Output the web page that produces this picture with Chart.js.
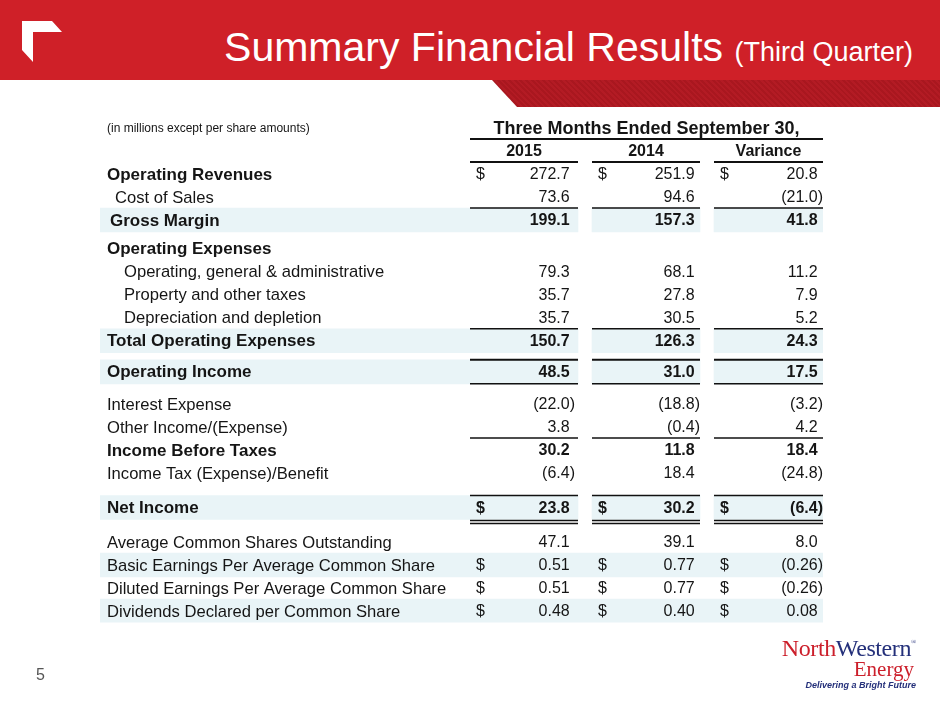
<!DOCTYPE html>
<html>
<head>
<meta charset="utf-8">
<script src="https://cdn.jsdelivr.net/npm/chart.js@4.4.0/dist/chart.umd.min.js"></script>
<style>
  body { margin: 0; width: 940px; height: 705px; overflow: hidden; background: #fff; position: relative;
         font-family: "Liberation Sans", Arial, sans-serif; }
  #band { position: absolute; left: 0; top: 0; width: 940px; height: 80px; background: #cf2028; }
  #strip { position: absolute; left: 0; top: 80px; width: 940px; height: 27px;
           background: repeating-linear-gradient(45deg, #b31b24 0 2px, #a9171f 2px 4px);
           clip-path: polygon(492px 0, 940px 0, 940px 27px, 517px 27px); }
  #mark { position: absolute; left: 0; top: 0; width: 80px; height: 80px; background: #fff;
          clip-path: polygon(22px 21px, 52px 21px, 62px 32px, 33px 32px, 33px 62px, 22px 50px); }
  #title { position: absolute; right: 27px; top: 27px; color: #fff; font-size: 41px; line-height: 40px; white-space: nowrap; }
  #title span { font-size: 27px; }
  #page { position: absolute; left: 36px; top: 666px; font-size: 16px; color: #555; }
  #logo { position: absolute; right: 24px; top: 630px; text-align: right; width: 200px; }
  #logo .nw { font-family: "Liberation Serif", "DejaVu Serif", serif; font-size: 24px; line-height: 24px; letter-spacing: -0.4px; }
  #logo .nw .n { color: #cc1f2b; }
  #logo .nw .w { color: #24307a; }
  #logo .nw sup { font-size: 7px; color: #24307a; vertical-align: 12px; }
  #logo .en { font-family: "Liberation Serif", "DejaVu Serif", serif; font-size: 21px; line-height: 18px; color: #cc1f2b; margin-right: 2px; }
  #logo .tag { font-size: 9px; font-weight: bold; font-style: italic; color: #24307a; line-height: 14px; }
  #table { position: absolute; left: 0; top: 0; }
</style>
</head>
<body>
<div id="band"></div>
<div id="strip"></div>
<div id="mark"></div>
<div id="title">Summary Financial Results <span>(Third Quarter)</span></div>
<canvas id="table" width="940" height="705"></canvas>
<div id="page">5</div>
<div id="logo">
  <div class="nw"><span class="n">North</span><span class="w">Western</span><sup>®</sup></div>
  <div class="en">Energy</div>
  <div class="tag">Delivering a Bright Future</div>
</div>
<script>
// Datos de la tabla
const unitsNote = '(in millions except per share amounts)';
const headerLabel = 'Three Months Ended September 30,';
const columnLabels = ['2015', '2014', 'Variance'];
const rowLabels = [
  'Operating Revenues', 'Cost of Sales', 'Gross Margin', 'Operating Expenses',
  'Operating, general & administrative', 'Property and other taxes', 'Depreciation and depletion',
  'Total Operating Expenses', 'Operating Income', 'Interest Expense', 'Other Income/(Expense)',
  'Income Before Taxes', 'Income Tax (Expense)/Benefit', 'Net Income',
  'Average Common Shares Outstanding', 'Basic Earnings Per Average Common Share',
  'Diluted Earnings Per Average Common Share', 'Dividends Declared per Common Share'
];
const values2015 = [272.7, 73.6, 199.1, null, 79.3, 35.7, 35.7, 150.7, 48.5, -22.0, 3.8, 30.2, -6.4, 23.8, 47.1, 0.51, 0.51, 0.48];
const values2014 = [251.9, 94.6, 157.3, null, 68.1, 27.8, 30.5, 126.3, 31.0, -18.8, -0.4, 11.8, 18.4, 30.2, 39.1, 0.77, 0.77, 0.40];
const valuesVariance = [20.8, -21.0, 41.8, null, 11.2, 7.9, 5.2, 24.3, 17.5, -3.2, 4.2, 18.4, -24.8, -6.4, 8.0, -0.26, -0.26, 0.08];

// Estilo de cada fila (no son datos)
const rowStyle = [
  { bold: 'label', dollar: true },
  { indent: 8 },
  { bold: 'all', indent: 3, shade: 'cols', lineAbove: 1.5 },
  { bold: 'label', gap: 0.25 },
  { indent: 17 },
  { indent: 17 },
  { indent: 17 },
  { bold: 'all', shade: 'cols', lineAbove: 1.5 },
  { bold: 'all', shade: 'cols', gap: 0.35, lineAbove: 2, lineBelow: true },
  { gap: 0.4 },
  {},
  { bold: 'all', lineAbove: 1.5 },
  {},
  { bold: 'all', dollar: true, shade: 'cols', gap: 0.5, lineAbove: 1.5, doubleBelow: true },
  { gap: 0.5 },
  { dollar: true, dec: 2, shade: 'full' },
  { dollar: true, dec: 2 },
  { dollar: true, dec: 2, shade: 'full' }
];

// columnas en unidades del eje x
const colSpan = [[370, 478], [492, 600], [614, 723]];
const colDollar = [376, 498, 620];
const colRight = [475, 600, 723];
const SHADE = '#e9f4f7';
const INK = '#151515';
const FONT = '"Liberation Sans", Arial, sans-serif';

// posicion vertical de cada fila
const rowSlot = [];
let slot = 1;
rowStyle.forEach(s => { slot += 1 + (s.gap || 0); rowSlot.push(slot); });

// bandas sombreadas como barras flotantes
const bandLabel = [], band2014 = [], bandVar = [];
rowStyle.forEach((s, i) => {
  if (s.shade === 'cols') {
    bandLabel.push({ x: [0, colSpan[0][1]], y: rowSlot[i] });
    band2014.push({ x: colSpan[1], y: rowSlot[i] });
    bandVar.push({ x: colSpan[2], y: rowSlot[i] });
  } else if (s.shade === 'full') {
    bandLabel.push({ x: [0, colSpan[2][1]], y: rowSlot[i] });
  }
});

function fmt(v, dec) {
  const s = Math.abs(v).toFixed(dec);
  return v < 0 ? '(' + s + ')' : s;
}

const tablePlugin = {
  id: 'tableText',
  afterDatasetsDraw(chart) {
    const { ctx, scales: { x, y } } = chart;
    const X = v => x.getPixelForValue(v);
    const Y = v => y.getPixelForValue(v);
    ctx.save();
    ctx.fillStyle = INK;
    ctx.strokeStyle = '#111';
    ctx.textBaseline = 'middle';

    function hline(x0, x1, yy, w) {
      ctx.lineWidth = w;
      ctx.beginPath();
      ctx.moveTo(X(x0), yy);
      ctx.lineTo(X(x1), yy);
      ctx.stroke();
    }

    // cabecera
    ctx.font = '12px ' + FONT;
    ctx.textAlign = 'left';
    ctx.fillText(unitsNote, X(7), Y(0) + 1);
    ctx.font = 'bold 18px ' + FONT;
    ctx.textAlign = 'center';
    ctx.fillText(headerLabel, X((colSpan[0][0] + colSpan[2][1]) / 2), Y(0) + 1);
    hline(colSpan[0][0], colSpan[2][1], Y(0.48), 2);
    ctx.font = 'bold 16px ' + FONT;
    columnLabels.forEach((c, k) => {
      ctx.fillText(c, X((colSpan[k][0] + colSpan[k][1]) / 2), Y(1) + 1);
      hline(colSpan[k][0], colSpan[k][1], Y(1.48), 2);
    });

    const cols = [values2015, values2014, valuesVariance];
    rowLabels.forEach((lab, i) => {
      const s = rowStyle[i];
      const yy = Y(rowSlot[i]);
      const dec = s.dec || 1;
      ctx.textAlign = 'left';
      ctx.font = (s.bold ? 'bold 17px ' : '16.6px ') + FONT;
      ctx.fillText(lab, X(7 + (s.indent || 0)), yy + 1);

      const vFont = (s.bold === 'all' ? 'bold ' : '') + '16px ' + FONT;
      ctx.font = vFont;
      const parenW = ctx.measureText(')').width;
      cols.forEach((arr, k) => {
        const v = arr[i];
        if (v === null || v === undefined) return;
        if (s.dollar) {
          ctx.textAlign = 'left';
          ctx.fillText('$', X(colDollar[k]), yy + 1);
        }
        ctx.textAlign = 'right';
        ctx.fillText(fmt(v, dec), X(colRight[k]) - (v < 0 ? 0 : parenW), yy + 1);
        if (s.lineAbove) hline(colSpan[k][0], colSpan[k][1], Y(rowSlot[i] - 0.52), s.lineAbove);
        if (s.lineBelow) hline(colSpan[k][0], colSpan[k][1], Y(rowSlot[i] + 0.52), 1.5);
        if (s.doubleBelow) {
          hline(colSpan[k][0], colSpan[k][1], Y(rowSlot[i] + 0.56), 1.5);
          hline(colSpan[k][0], colSpan[k][1], Y(rowSlot[i] + 0.7), 1.5);
        }
      });
    });
    ctx.restore();
  }
};

const tableChart = new Chart(document.getElementById('table').getContext('2d'), {
  type: 'bar',
  data: {
    datasets: [
      { data: bandLabel, backgroundColor: SHADE },
      { data: band2014, backgroundColor: SHADE },
      { data: bandVar, backgroundColor: SHADE }
    ]
  },
  options: {
    responsive: false,
    animation: false,
    indexAxis: 'y',
    grouped: false,
    barThickness: 24,
    layout: { padding: { left: 100, right: 117, top: 116.5, bottom: 82.5 } },
    scales: {
      x: { type: 'linear', min: 0, max: 723, offset: false, display: false },
      y: { type: 'linear', min: -0.5, max: 21.5, reverse: true, offset: false, display: false }
    },
    plugins: { legend: { display: false }, tooltip: { enabled: false } }
  },
  plugins: [tablePlugin]
});
</script>
</body>
</html>
